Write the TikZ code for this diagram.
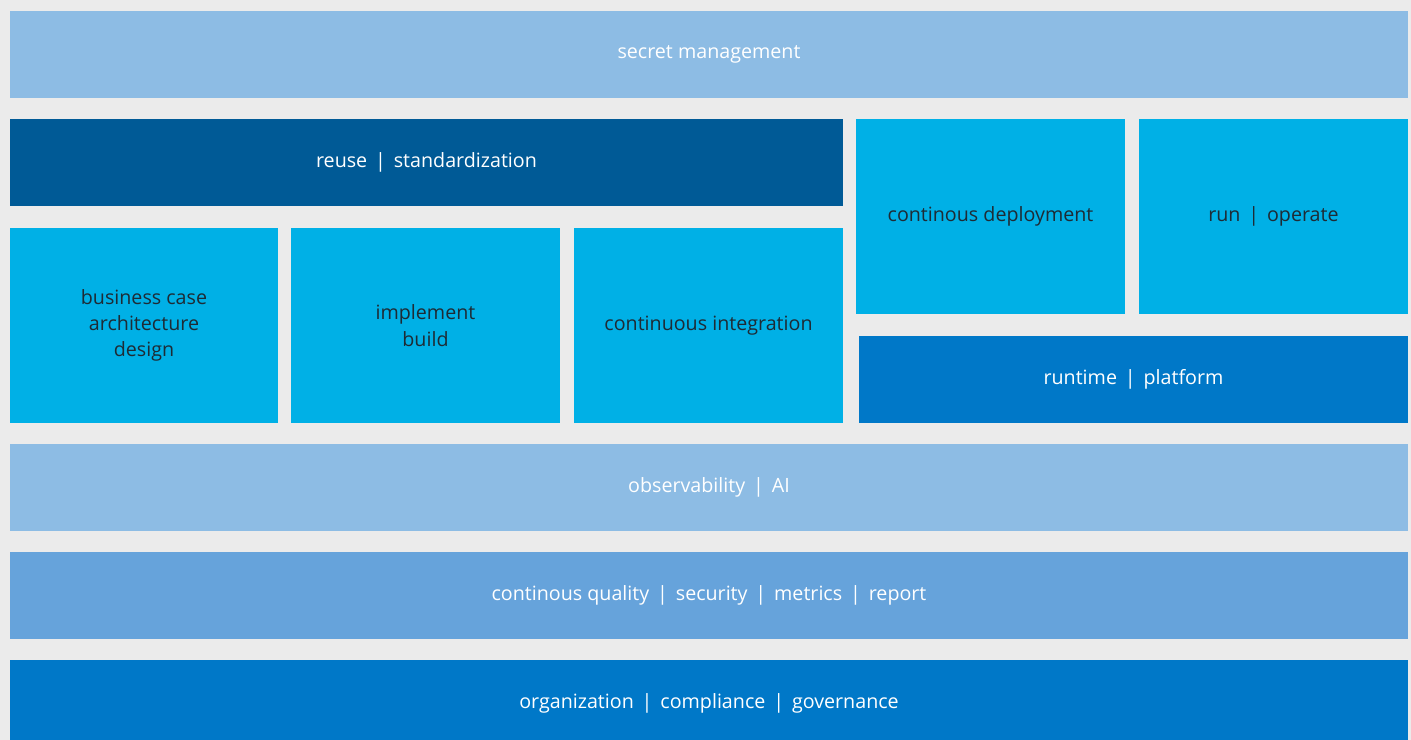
\documentclass[tikz,border=0pt]{standalone}
\usepackage{fontspec}
\setmainfont{Open Sans}
\usepackage{tikz}

\definecolor{canvas}{HTML}{EBEBEB}
\definecolor{paleblue}{HTML}{8DBCE4}
\definecolor{navyblue}{HTML}{005A96}
\definecolor{skyblue}{HTML}{00B0E6}
\definecolor{midblue}{HTML}{0078C8}
\definecolor{softblue}{HTML}{66A3DB}
\definecolor{inkgray}{HTML}{1E2B35}

\newcommand{\pipesep}{\hspace{0.4em}|\hspace{0.4em}}

\begin{document}
\begin{tikzpicture}[
        x=0.02cm, y=-0.02cm,
        block/.style={inner sep=0pt, align=center, font=\fontsize{11.2}{15}\selectfont},
        band/.style={block, minimum width=27.96cm, minimum height=1.74cm, text=white},
        tile/.style={block, fill=skyblue, minimum width=5.38cm, minimum height=3.9cm, text=inkgray}]

        % canvas
        \fill[canvas] (0,0) rectangle (1411,740);
        \useasboundingbox (0,0) rectangle (1411,740);

        % --- top band ---
        \node[band, fill=paleblue] (secret) at (709,54.5) {secret management};

        % --- left block: reuse over the three stages ---
        \node[block, fill=navyblue, text=white, minimum width=16.66cm, minimum height=1.74cm]
            (reuse) at (426.5,162.5) {reuse\pipesep standardization};
        \node[tile, minimum width=5.36cm] (business) at (144,325.5) {business case\\architecture\\design};
        \node[tile] (implement) at (425.5,325.5) {implement\\build};
        \node[tile] (integration) at (708.5,325.5) {continuous integration};

        % --- right block: deployment and run over runtime ---
        \node[tile] (deployment) at (990.5,216.5) {continous deployment};
        \node[tile] (run) at (1273.5,216.5) {run\pipesep operate};
        \node[block, fill=midblue, text=white, minimum width=10.98cm, minimum height=1.74cm]
            (runtime) at (1133.5,379.5) {runtime\pipesep platform};

        % --- bottom bands ---
        \node[band, fill=paleblue] (observability) at (709,487.5) {observability\pipesep AI};
        \node[band, fill=softblue] (quality) at (709,595.5)
            {continous quality\pipesep security\pipesep metrics\pipesep report};
        \node[band, fill=midblue, minimum height=1.74cm] (organization) at (709,703.5)
            {organization\pipesep compliance\pipesep governance};

    \end{tikzpicture}
\end{document}
